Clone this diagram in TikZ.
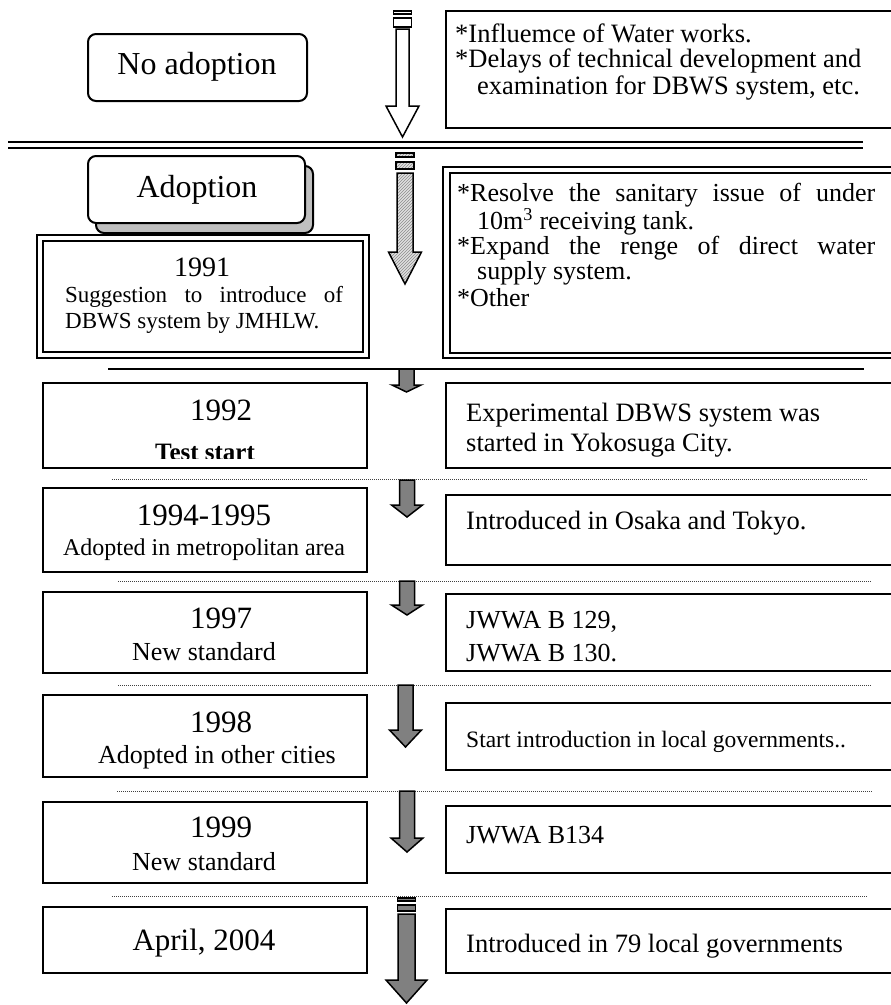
\documentclass[tikz,border=0pt]{standalone}
\usepackage{fontspec}
\setmainfont{Liberation Serif}
\usetikzlibrary{patterns}
\newcommand{\fsz}[1]{\fontsize{#1}{#1}\selectfont}
% #1 style, #2 cx, #3 ytop, #4 yhead, #5 ytip, #6 shaft half width, #7 head half width
\newcommand{\blockarr}[7]{\path[#1] ({#2-#6},#3) -- ({#2+#6},#3) -- ({#2+#6},#4) -- ({#2+#7},#4) -- (#2,#5) -- ({#2-#7},#4) -- ({#2-#6},#4) -- cycle;}
\begin{document}
\begin{tikzpicture}[x=1pt,y=-1pt,
  bx/.style={draw=black,line width=2pt},
  rbx/.style={draw=black,line width=2pt,rounded corners=8pt},
  ctxt/.style={inner sep=0pt,anchor=center},
  ltxt/.style={inner sep=0pt,anchor=west},
  sep/.style={draw=black!75,line width=1pt,dash pattern=on 1pt off 1pt},
  whitearrow/.style={draw=black,line width=1.5pt,fill=white},
  hatcharrow/.style={draw=black,line width=1.5pt,preaction={fill=black!12},pattern=north east lines,pattern color=black!45},
  grayarrow/.style={draw=black,line width=1.5pt,fill=black!50}]
\useasboundingbox (0,0) rectangle (891,1005);
\clip (0,0) rectangle (891,1005);

% ---------- top section ----------
\draw[rbx] (88,34) rectangle (307,101);
\node[ctxt,font=\fsz{32}] (tNo) at (197,67) {No adoption};
\draw[bx] (446,11) rectangle (905,128);
\node[ltxt,font=\fsz{26.5}] (tInf) at (455,33) {*Influemce of Water works.};
\node[ltxt,font=\fsz{26.5}] (tDel) at (455,61) {*Delays of technical development and};
\node[ltxt,font=\fsz{26.5}] (tExa) at (477,88) {examination for DBWS system, etc.};

% double separator
\draw[line width=2.5pt] (8,142) -- (863,142);
\draw[line width=2.5pt] (8,148) -- (863,148);

% top white arrow
\draw[whitearrow,line width=1.2pt] (393.5,11) rectangle (411.5,14);
\draw[whitearrow,line width=1.2pt] (393.5,18) rectangle (411.5,27);
\blockarr{whitearrow}{402.5}{29}{106}{137}{6.5}{16.5}

% ---------- adoption section ----------
\draw[rbx,fill=black!25] (96,166) rectangle (313,233);
\draw[rbx,fill=white] (88,156) rectangle (305,223);
\node[ctxt,font=\fsz{32}] (tAd) at (197,190) {Adoption};

\draw[bx] (37,235) rectangle (369,358);
\draw[bx] (43,241) rectangle (363,352);
\node[ctxt,font=\fsz{28}] (t91) at (202,267) {1991};
\node[ctxt,font=\fsz{23}] (t91a) at (204,297) {\makebox[278pt][s]{Suggestion to introduce of}};
\node[ltxt,font=\fsz{23}] (t91b) at (65,323) {DBWS system by JMHLW.};

\draw[bx] (443,167) rectangle (905,358);
\draw[bx] (450,173) rectangle (905,353);
\node[ltxt,font=\fsz{26}] (r1) at (457,195) {\makebox[418pt][s]{*Resolve the sanitary issue of under}};
\node[ltxt,font=\fsz{26}] (r2) at (477,222) {10m\textsuperscript{3} receiving tank.};
\node[ltxt,font=\fsz{26}] (r3) at (457,248) {\makebox[418pt][s]{*Expand the renge of direct water}};
\node[ltxt,font=\fsz{26}] (r4) at (477,273) {supply system.};
\node[ltxt,font=\fsz{26}] (r5) at (457,298) {*Other};

% hatched arrow
\draw[hatcharrow,line width=1.2pt] (396,153) rectangle (414,157);
\draw[hatcharrow,line width=1.2pt] (396,162) rectangle (414,169);
\blockarr{hatcharrow}{405}{173}{252}{284}{8}{16.5}

% single separator
\draw[line width=2pt] (108,369) -- (864,369);

% ---------- 1992 ----------
\draw[bx] (43,383) rectangle (367,468);
\draw[bx] (446,383) rectangle (905,468);
\node[ctxt,font=\fsz{31}] (t92) at (221,410) {1992};
\begin{scope}
  \clip (45,440) rectangle (365,458);
  \node[ctxt,font=\fsz{25}\bfseries] (t92a) at (205,452) {Test start};
\end{scope}
\node[ltxt,font=\fsz{26.5}] (r92a) at (466,415) {Experimental DBWS system was};
\node[ltxt,font=\fsz{26.5}] (r92b) at (466,445) {started in Yokosuga City.};
\draw[sep] (112,479) -- (868,479);

% ---------- 1994-1995 ----------
\draw[bx] (43,488) rectangle (367,572);
\draw[bx] (446,495) rectangle (905,565);
\node[ctxt,font=\fsz{31}] (t94) at (204,515) {1994-1995};
\node[ctxt,font=\fsz{24}] (t94a) at (204,550) {Adopted in metropolitan area};
\node[ltxt,font=\fsz{26.5}] (r94) at (466,523) {Introduced in Osaka and Tokyo.};
\draw[sep] (118,581) -- (872,581);

% ---------- 1997 ----------
\draw[bx] (43,592) rectangle (367,673);
\draw[bx] (446,594) rectangle (905,671);
\node[ctxt,font=\fsz{31}] (t97) at (221,618) {1997};
\node[ctxt,font=\fsz{26}] (t97a) at (204,652) {New standard};
\node[ltxt,font=\fsz{26}] (r97a) at (466,622) {JWWA B 129,};
\node[ltxt,font=\fsz{26}] (r97b) at (466,653) {JWWA B 130.};
\draw[sep] (118,685) -- (872,685);

% ---------- 1998 ----------
\draw[bx] (43,695) rectangle (367,777);
\draw[bx] (446,703) rectangle (905,770);
\node[ctxt,font=\fsz{31}] (t98) at (221,722) {1998};
\node[ctxt,font=\fsz{26}] (t98a) at (217,757) {Adopted in other cities};
\node[ltxt,font=\fsz{23.5}] (r98) at (466,742) {Start introduction in local governments..};
\draw[sep] (117,791) -- (872,791);

% ---------- 1999 ----------
\draw[bx] (43,802) rectangle (367,883);
\draw[bx] (446,806) rectangle (905,873);
\node[ctxt,font=\fsz{31}] (t99) at (221,827) {1999};
\node[ctxt,font=\fsz{26}] (t99a) at (204,862) {New standard};
\node[ltxt,font=\fsz{26}] (r99) at (466,835) {JWWA B134};
\draw[sep] (112,896) -- (868,896);

% ---------- April 2004 ----------
\draw[bx] (43,907) rectangle (367,973);
\draw[bx] (446,909) rectangle (905,973);
\node[ctxt,font=\fsz{31}] (t04) at (204,943) {April, 2004};
\node[ltxt,font=\fsz{26.5}] (r04) at (466,946) {Introduced in 79 local governments};

% ---------- gray arrows ----------
\blockarr{grayarrow}{406.5}{369}{385}{392}{7.5}{14.5}
\blockarr{grayarrow}{407}{480}{505}{517}{7.5}{15.5}
\blockarr{grayarrow}{407}{581}{605}{615}{7.5}{15.5}
\blockarr{grayarrow}{405.5}{685}{730}{747}{7.5}{16}
\blockarr{grayarrow}{407}{791}{838}{852}{7.5}{16}
\draw[grayarrow,line width=1.2pt] (397.5,898) rectangle (415.5,901);
\draw[grayarrow,line width=1.2pt] (397.5,905) rectangle (415.5,911);
\blockarr{grayarrow}{406.5}{914}{980}{1003}{8.5}{20.5}
\end{tikzpicture}
\end{document}
